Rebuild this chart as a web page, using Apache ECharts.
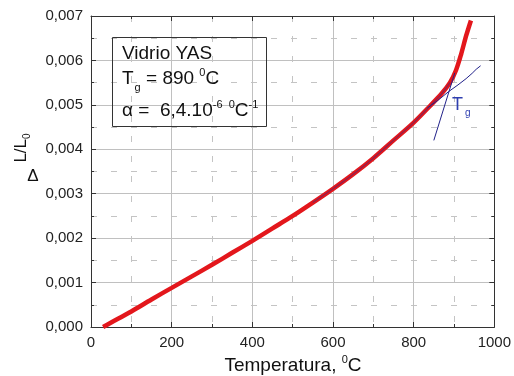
<!DOCTYPE html>
<html>
<head>
<meta charset="utf-8">
<script src="https://cdn.jsdelivr.net/npm/echarts@6/dist/echarts.min.js"></script>
<style>html,body{margin:0;padding:0;background:#fff}#c{width:514px;height:376px}</style>
</head>
<body>
<div id="c"></div>
<script>
// Measured dilatometric curve (red)
var tempC = [30, 50, 100, 150, 200, 250, 300, 350, 400, 450, 500, 550, 600, 650, 700, 750, 800, 840, 870, 890, 905, 918, 930, 942];
var dLL   = [0, 0.0001, 0.00035, 0.00062, 0.00088, 0.00114, 0.0014, 0.00167, 0.00194, 0.00222, 0.0025, 0.0028, 0.00311, 0.00344, 0.0038, 0.0042, 0.0046, 0.00497, 0.00526, 0.0055, 0.00578, 0.00615, 0.00655, 0.0069];
// Tangent line above Tg (steep)
var tanHighT = [850, 902];
var tanHighV = [0.0042, 0.00572];
// Tangent line below Tg (shallow)
var tanLowT = [834, 860, 887, 910, 930, 945, 955, 966];
var tanLowV = [0.00493, 0.0051, 0.0053, 0.00545, 0.00559, 0.00571, 0.0058, 0.00588];
// Axis ticks
var xTicks = [0, 200, 400, 600, 800, 1000];
var yTicks = [0, 0.001, 0.002, 0.003, 0.004, 0.005, 0.006, 0.007];

function zip(a, b) { return a.map(function (v, i) { return [v, b[i]]; }); }

var chart = echarts.init(document.getElementById('c'), null, {renderer: 'canvas'});
var font = '"Liberation Sans", Arial, sans-serif';
var minorGrid = {show: true, lineStyle: {color: '#c4c4c4', width: 1, type: [6, 14]}};
var majorGrid = {show: true, lineStyle: {color: '#c0c0c0', width: 1}};

function mkX(pos, labels) {
  return {
    type: 'value', position: pos, min: xTicks[0], max: xTicks[xTicks.length - 1],
    interval: xTicks[1] - xTicks[0],
    axisLine: {show: true, onZero: false, lineStyle: {color: '#333', width: 1}},
    axisTick: {show: true, inside: true, length: 5, lineStyle: {color: '#333'}},
    minorTick: {show: true, splitNumber: 2, length: 3, lineStyle: {color: '#333'}},
    splitLine: labels ? majorGrid : {show: false},
    minorSplitLine: labels ? minorGrid : {show: false},
    axisLabel: {show: labels, fontSize: 15, color: '#222', fontFamily: font, margin: 8,
      formatter: function (v) { return String(Math.round(v)); }}
  };
}
function mkY(pos, labels) {
  return {
    type: 'value', position: pos, min: yTicks[0], max: yTicks[yTicks.length - 1],
    interval: yTicks[1] - yTicks[0],
    axisLine: {show: true, onZero: false, lineStyle: {color: '#333', width: 1}},
    axisTick: {show: true, inside: true, length: 5, lineStyle: {color: '#333'}},
    minorTick: {show: true, splitNumber: 2, length: 3, lineStyle: {color: '#333'}},
    splitLine: labels ? majorGrid : {show: false},
    minorSplitLine: labels ? minorGrid : {show: false},
    axisLabel: {show: labels, fontSize: 15, color: '#222', fontFamily: font, margin: 8,
      formatter: function (v) { return (Math.round(v * 1e6) / 1e6).toFixed(3).replace('.', ','); }}
  };
}

var option = {
  animation: false,
  backgroundColor: '#fff',
  grid: {left: 91, right: 17, top: 16, bottom: 49, containLabel: false},
  xAxis: [mkX('bottom', true), mkX('top', false)],
  yAxis: [mkY('left', true), mkY('right', false)],
  series: [
    {type: 'line', data: zip(tempC, dLL), showSymbol: false, smooth: 0.3,
      lineStyle: {color: '#e3171c', width: 4.5}, z: 3},
    {type: 'line', data: zip(tempC, dLL).filter(function (p) { return p[0] >= 550 && p[0] <= 890; }),
      showSymbol: false, smooth: 0.3, lineStyle: {color: '#4a2a7a', width: 1.2, opacity: 0.55}, z: 4},
    {type: 'line', data: zip(tanHighT, tanHighV), showSymbol: false,
      lineStyle: {color: '#22228a', width: 1}, z: 5},
    {type: 'line', data: zip(tanLowT, tanLowV), showSymbol: false,
      lineStyle: {color: '#22228a', width: 1}, z: 5}
  ],
  graphic: [
    {type: 'rect', shape: {x: 112.5, y: 37.5, width: 154, height: 89},
      style: {fill: null, stroke: '#333', lineWidth: 1}, z: 10},
    {type: 'text', x: 122, y: 54, style: {text: 'Vidrio YAS', font: '19px ' + font, fill: '#111', textVerticalAlign: 'middle'}, z: 10},
    {type: 'text', x: 122, y: 79, style: {
      text: '{m|T}{s|g}{m| = 890 }{p|0}{m|C}', textVerticalAlign: 'middle',
      rich: {m: {fontSize: 19, fontFamily: font, fill: '#111'},
             s: {fontSize: 11, fontFamily: font, fill: '#111', padding: [17, 0, 0, 1]},
             p: {fontSize: 11, fontFamily: font, fill: '#111', padding: [0, 0, 12, 0]}}}, z: 10},
    {type: 'text', x: 122, y: 111, style: {
      text: '{m|α =  6,4.10}{p|-6  0}{m|C}{p|-1}', textVerticalAlign: 'middle',
      rich: {m: {fontSize: 19, fontFamily: font, fill: '#111'},
             p: {fontSize: 11, fontFamily: font, fill: '#111', padding: [0, 0, 12, 0]}}}, z: 10},
    {type: 'text', x: 293, y: 366, style: {
      text: '{m|Temperatura, }{p|0}{m|C}', textAlign: 'center', textVerticalAlign: 'middle',
      rich: {m: {fontSize: 19, fontFamily: font, fill: '#111'},
             p: {fontSize: 11, fontFamily: font, fill: '#111', padding: [0, 0, 12, 0]}}}, z: 10},
    {type: 'text', x: 21, y: 148, rotation: Math.PI / 2, style: {
      text: '{m|L/L}{s|0}', textAlign: 'center', textVerticalAlign: 'middle',
      rich: {m: {fontSize: 17, fontFamily: font, fill: '#111'},
             s: {fontSize: 10, fontFamily: font, fill: '#111', padding: [12, 0, 0, 0]}}}, z: 10},
    {type: 'text', x: 33, y: 176, style: {text: 'Δ', font: '17px ' + font, fill: '#111', textAlign: 'center', textVerticalAlign: 'middle'}, z: 10},
    {type: 'text', x: 452, y: 105, style: {
      text: '{m|T}{s|g}', textAlign: 'left', textVerticalAlign: 'middle',
      rich: {m: {fontSize: 18, fontFamily: font, fill: '#2f3fb0'},
             s: {fontSize: 10, fontFamily: font, fill: '#2f3fb0', padding: [16, 0, 0, 2]}}}, z: 10}
  ]
};
chart.setOption(option);
</script>
</body>
</html>
